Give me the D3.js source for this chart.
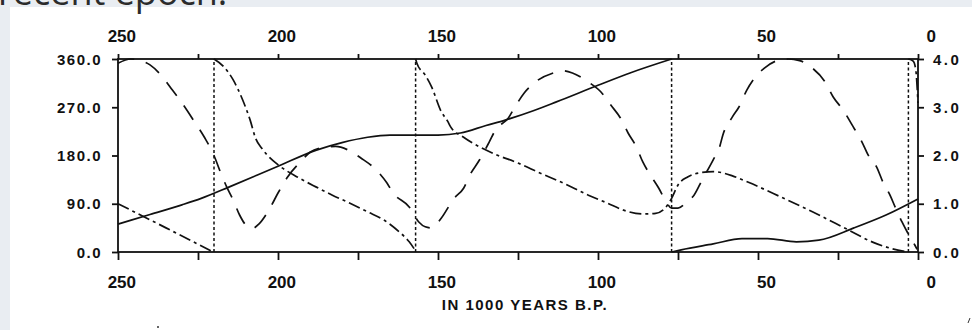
<!DOCTYPE html>
<html>
<head>
<meta charset="utf-8">
<script src="https://cdn.jsdelivr.net/npm/d3@7"></script>
<style>
  html, body { margin: 0; padding: 0; background: #ffffff; }
  svg { display: block; }
</style>
</head>
<body>
<svg id="chart" width="972" height="330"></svg>
<script>
// ---------- data (x in 1000 years B.P., y in degrees on the left scale) ----------
const xMajorTicks = [250, 200, 150, 100, 50, 0];
const xMinorTicks = [225, 175, 125, 75, 25];
const leftTicks = [0, 90, 180, 270, 360];
const leftTickLabels = ["0.0", "90.0", "180.0", "270.0", "360.0"];
const rightTicks = [0, 1, 2, 3, 4];
const rightTickLabels = ["0.0", "1.0", "2.0", "3.0", "4.0"];
const xTitle = "IN 1000 YEARS B.P.";
const slideText = "recent epoch.";

// solid curve (wraps from 360 back to 0 at ~77 ka)
const solidA = [[250,52],[240,70],[230,88],[224,100],[215,122],[200,160],[188,190],[180,204],[172,214],[165,218],[157,218],[150,218],[143,222],[135,236],[129,246],[120,264],[113,280],[100,311],[90,334],[77,360]];
const solidB = [[77,0],[74,4],[64,15],[55,25],[47,25],[38,19],[31,22],[20,45],[10,69],[0,99]];

// long-dashed curve
const dashed = [[250,352],[246,360],[243,357],[240,349],[236,326],[233,302],[230,278],[226,242],[223,214],[220,180],[218,149],[216,121],[214,97],[212,69],[210,50],[208,44],[206,52],[202.5,82],[200,110],[197,140],[193,168],[190,186],[186,195],[182,197],[178,190],[174,175],[170,157],[166,129],[164,110],[159,84],[156,56],[154,47],[152,45],[149,63],[145,100],[142,119],[140,144],[137,172],[134,205],[132,228],[128,250],[126,270],[123,297],[120,315],[114,334],[111,338],[108,334],[103,317],[99,298],[96,274],[93,250],[90.6,222],[88,196],[86,168],[84,147],[81,119],[79,97],[77,82],[75,82],[72,95],[70,106],[67.5,134],[64,172],[62,196],[61,218],[58,252],[56,270],[53.5,302],[51.5,321],[48,343],[44,357],[40.5,360],[37,357],[33,343],[29,317],[26.5,289],[23.4,265],[20.6,237],[17.5,205],[15.6,181],[12.8,157],[11,131],[8.75,106],[7,82],[5,56],[2.5,28],[1,13],[0.3,5]];

// dash-dot curve (wraps at ~220, ~157 and ~3 ka)
const dashDotA = [[250,90],[235,45],[220.3,0]];
const dashDotB = [[220,360],[217,346],[214,321],[211,283],[208.7,246],[207,212],[205,193],[203.4,181],[199.4,160],[194,140],[188,121],[183,106],[177.5,91],[172,75],[167,60],[162,37],[159,19],[157,2]];
const dashDotC = [[157,360],[156.6,352],[154,330],[152,308],[149,262],[147,244],[146,233],[142,214],[137,196],[131.6,181],[125,166],[118,147],[111,129],[103,106],[97,91],[92,78],[86,71],[82,72],[79,82],[77,100],[75,125],[72,140],[68,148],[64,150],[58,142],[53,130],[43,103],[33,75],[22,42],[14,18],[8,6],[3,0]];
const dashDotD = [[3,360],[1.5,356],[0.7,340],[0,278]];

// vertical dotted wrap markers
const wrapLines = [220, 157, 77, 3];

// ---------- drawing ----------
const svg = d3.select("#chart");
const bg = "#e9edf2";

// slide background strips
svg.append("rect").attr("x", 0).attr("y", 0).attr("width", 972).attr("height", 7).attr("fill", bg);
svg.append("rect").attr("x", 0).attr("y", 0).attr("width", 10).attr("height", 330).attr("fill", bg);
svg.append("text").attr("x", -2).attr("y", 5)
  .attr("font-family", "'Open Sans', 'Noto Sans', sans-serif").attr("font-size", 36)
  .attr("fill", "#2b2b2b").text(slideText);

const x = d3.scaleLinear().domain([250, 0]).range([118, 918]);
const yL = d3.scaleLinear().domain([0, 360]).range([252, 59]);
const yR = d3.scaleLinear().domain([0, 4]).range([252, 59]);

const ink = "#111";
const g = svg.append("g");

// frame
g.append("rect").attr("x", x(250)).attr("y", yL(360))
  .attr("width", x(0) - x(250)).attr("height", yL(0) - yL(360))
  .attr("fill", "none").attr("stroke", ink).attr("stroke-width", 1.8);

// axes (ticks only, lines come from the frame)
const allX = xMajorTicks.concat(xMinorTicks);
const axTop = d3.axisTop(x).tickValues(allX).tickSize(5).tickFormat("");
const axBot = d3.axisBottom(x).tickValues(allX).tickSize(8).tickFormat("");
const axLeft = d3.axisLeft(yL).tickValues(leftTicks).tickSize(6).tickFormat("");
const axRight = d3.axisRight(yR).tickValues(rightTicks).tickSize(6).tickFormat("");
function styleAxis(sel) {
  sel.select(".domain").remove();
  sel.selectAll(".tick line").attr("stroke", ink).attr("stroke-width", 1.8);
}
g.append("g").attr("transform", `translate(0,${yL(360)})`).call(axTop).call(styleAxis);
g.append("g").attr("transform", `translate(0,${yL(0)})`).call(axBot).call(styleAxis);
g.append("g").attr("transform", `translate(${x(250)},0)`).call(axLeft).call(styleAxis);
g.append("g").attr("transform", `translate(${x(0)},0)`).call(axRight).call(styleAxis);

// tick labels
const numFont = "'Liberation Sans', Arial, sans-serif";
g.selectAll(".xlabTop").data(xMajorTicks).enter().append("text")
  .attr("x", d => x(d) + 18).attr("y", 41.5).attr("text-anchor", "end")
  .attr("font-family", numFont).attr("font-size", 17).attr("font-weight", "bold")
  .attr("fill", ink).text(d => d);
g.selectAll(".xlabBot").data(xMajorTicks).enter().append("text")
  .attr("x", d => x(d) + 18).attr("y", 287.5).attr("text-anchor", "end")
  .attr("font-family", numFont).attr("font-size", 17).attr("font-weight", "bold")
  .attr("fill", ink).text(d => d);
g.selectAll(".ylabL").data(leftTicks).enter().append("text")
  .attr("x", x(250) - 16).attr("y", d => yL(d) + 5.5).attr("text-anchor", "end")
  .attr("font-family", numFont).attr("font-size", 15).attr("font-weight", "bold")
  .attr("letter-spacing", 1.5).attr("fill", ink).text((d, i) => leftTickLabels[i]);
g.selectAll(".ylabR").data(rightTicks).enter().append("text")
  .attr("x", x(0) + 15).attr("y", d => yR(d) + 5.5).attr("text-anchor", "start")
  .attr("font-family", numFont).attr("font-size", 15).attr("font-weight", "bold")
  .attr("letter-spacing", 2.5).attr("fill", ink).text((d, i) => rightTickLabels[i]);

g.append("text").attr("x", 525).attr("y", 310).attr("text-anchor", "middle")
  .attr("font-family", numFont).attr("font-size", 15).attr("font-weight", "bold")
  .attr("letter-spacing", 1.5).attr("fill", ink).text(xTitle);

// vertical dotted lines
g.selectAll(".wrap").data(wrapLines).enter().append("line")
  .attr("x1", d => x(d)).attr("x2", d => x(d))
  .attr("y1", yL(0)).attr("y2", yL(360))
  .attr("stroke", ink).attr("stroke-width", 1.5).attr("stroke-dasharray", "3,2.5");

// curves
const line = d3.line().x(d => x(d[0])).y(d => yL(d[1])).curve(d3.curveMonotoneX);
function drawCurve(data, dash) {
  g.append("path").datum(data).attr("d", line)
    .attr("fill", "none").attr("stroke", ink).attr("stroke-width", 1.7)
    .attr("stroke-dasharray", dash).attr("stroke-linejoin", "round");
}
drawCurve(solidA, null);
drawCurve(solidB, null);
drawCurve(dashed, "17,12");
[dashDotA, dashDotB, dashDotC, dashDotD].forEach(d => drawCurve(d, "12,4,3,4"));

// small scan specks
svg.append("circle").attr("cx", 158).attr("cy", 327).attr("r", 1).attr("fill", "#333");
svg.append("line").attr("x1", 968).attr("y1", 323).attr("x2", 970).attr("y2", 318)
  .attr("stroke", "#333").attr("stroke-width", 1);
</script>
</body>
</html>
